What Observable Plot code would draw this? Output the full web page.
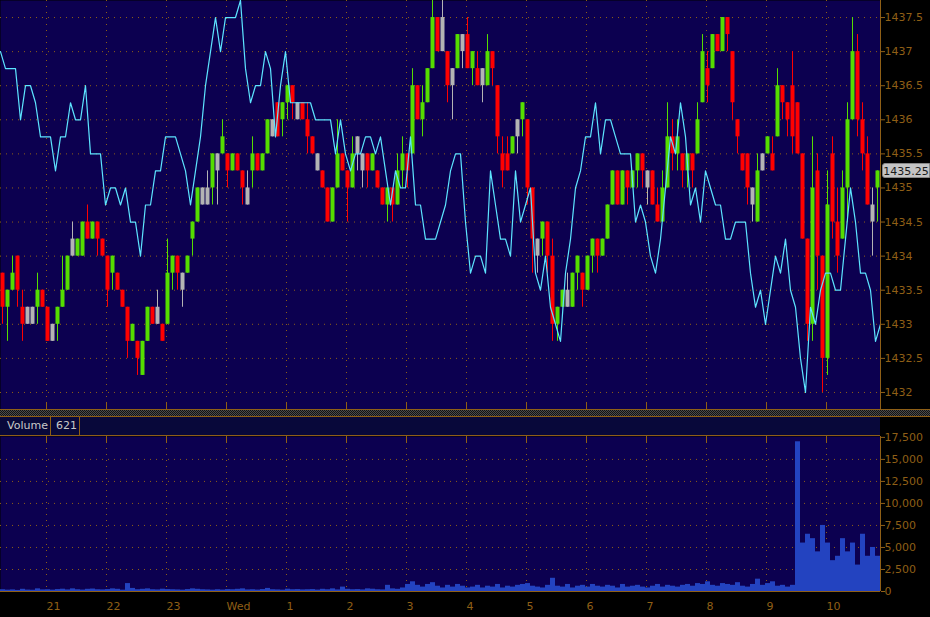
<!DOCTYPE html>
<html>
<head>
<meta charset="utf-8">
<script src="https://cdn.jsdelivr.net/npm/d3@7"></script>
<script src="https://cdn.jsdelivr.net/npm/@observablehq/plot@0.6"></script>
<style>
html, body { margin:0; padding:0; background:#000; }
#wrap { position:relative; width:930px; height:617px; overflow:hidden; background:#000; font-family:"DejaVu Sans", sans-serif; }
#price { position:absolute; left:0; top:0; }
#sep { position:absolute; left:0; top:409px; width:930px; height:6px; border-top:1px solid #8f5f16; border-bottom:1px solid #8f5f16;
  background: repeating-conic-gradient(#4c4c4c 0 25%, #121212 0 50%) 0 0 / 2px 2px; }
#hdr { position:absolute; left:0; top:417px; width:880px; height:18px; background:#08083a; border-bottom:1px solid #8f5f16; color:#c8c8c8; font-size:11px; }
#hdr .cell { position:absolute; top:0; height:18px; line-height:18px; border-right:1px solid #8f5f16; box-sizing:border-box; }
#vol { position:absolute; left:0; top:436px; }
#last { position:absolute; left:882px; width:48px; height:15px; line-height:15px; background:#c4c4c4; color:#1a1a1a; font-size:11px; text-align:center; border-radius:3px 0 0 3px; box-sizing:border-box; border:1px solid #888; }
svg { display:block; overflow:visible; }
</style>
</head>
<body>
<div id="wrap">
  <div id="price"></div>
  <div id="sep"></div>
  <div id="hdr"><div class="cell" style="left:0;width:51px;padding-left:7px;">Volume</div><div class="cell" id="volval" style="left:51px;width:29px;padding-left:5px;"></div></div>
  <div id="vol"></div>
  <div id="last"></div>
</div>
<script>
// ---- Data ----
const barStart = -226;      // minutes relative to midnight (Wed) of first bar
const barMinutes = 5;
const hourTicks = [-180, -120, -60, 0, 60, 120, 180, 240, 300, 360, 420, 480, 540, 600];
const hourLabels = ["21", "22", "23", "Wed", "1", "2", "3", "4", "5", "6", "7", "8", "9", "10"];
const priceTicks = [1432, 1432.5, 1433, 1433.5, 1434, 1434.5, 1435, 1435.5, 1436, 1436.5, 1437, 1437.5];
const volTicks = [0, 2500, 5000, 7500, 10000, 12500, 15000, 17500];
const volumeHeaderValue = "621";

const opens = [1433.75,1433.25,1433.5,1434,1433.25,1433.25,1433.25,1433.25,1433.5,1433.25,
 1433,1433,1433.25,1433.5,1434.25,1434,1434,1434.5,1434.25,1434.5,
 1434.25,1434,1434,1433.75,1433.5,1433.25,1432.75,1432.75,1432.25,1432.75,
 1433.25,1433.25,1433,1433,1433.75,1434,1433.5,1433.75,1434.25,1434.5,
 1434.75,1434.75,1435,1435.25,1435.5,1435.5,1435.25,1435.5,1435.25,1434.75,
 1435.25,1435.5,1435.25,1435.5,1435.75,1436.25,1436,1436.25,1436.5,1436,
 1436.25,1436,1435.75,1435.25,1435.25,1435,1434.5,1435,1435.5,1435.25,
 1435,1435.75,1435.25,1435.5,1435.25,1435.25,1435,1434.75,1435,1434.75,
 1435.25,1435.5,1435.5,1436.5,1436,1436.25,1436.75,1437.5,1437.5,1437,
 1436.75,1436.75,1437,1437.25,1436.75,1436.75,1436.75,1436.5,1437,1436.5,
 1435.25,1435.5,1435.5,1436,1436,1436,1435,1434,1434.25,1434.5,
 1434,1433,1433.25,1433.25,1433.25,1433.75,1433.75,1433.5,1434,1434.25,
 1434,1434.25,1434.75,1435.25,1434.75,1435.25,1435,1435.25,1435.5,1435,
 1435.25,1434.75,1434.5,1435,1435.75,1435.5,1435.5,1435.25,1435.5,1435.5,
 1436.25,1436.75,1436.75,1437.25,1437,1437.5,1437,1436,1435.5,1435.5,
 1434.75,1434.5,1435.5,1435.5,1435.5,1435.75,1436.5,1436.25,1436.5,1436.25,
 1435.5,1434.25,1433,1435.25,1434,1432.5,1435.5,1434.5,1434.25,1435,
 1436,1437,1436,1435.5,1434.5,1435];

const closes = [1433.25,1433.5,1433.75,1433.5,1433,1433,1433,1433.5,1433.25,1432.75,
 1432.75,1433.25,1433.5,1434,1434,1434.25,1434.5,1434.25,1434.5,1434.25,
 1434,1433.5,1433.75,1433.5,1433.25,1432.75,1433,1432.5,1432.75,1433.25,
 1433,1433,1432.75,1433.75,1434,1433.75,1433.75,1434,1434.5,1435,
 1435,1435,1435.5,1435.5,1435.75,1435.25,1435.5,1435.25,1435,1435,
 1435.5,1435.25,1435.5,1436,1436,1435.75,1436.25,1436.5,1436.25,1436.25,
 1436,1435.75,1435.5,1435.5,1435,1434.5,1435,1435.5,1435.25,1435,
 1435.5,1435.5,1435.5,1435.25,1435.5,1435,1434.75,1435,1434.75,1435.25,
 1435.5,1435.25,1436.5,1436,1436.25,1436.75,1437.5,1437,1437,1436.5,
 1436.5,1437.25,1437.25,1436.75,1437,1436.5,1436.5,1437,1436.75,1435.75,
 1435.5,1435.25,1435.75,1435.75,1436.25,1435,1434.25,1434.25,1434.5,1434,
 1433,1433.25,1433.5,1433.5,1433.75,1434,1433.5,1434,1434.25,1434,
 1434.25,1434.75,1435.25,1434.75,1435.25,1435,1435.25,1435.5,1435.25,1435.25,
 1434.75,1434.5,1435,1435.75,1435.5,1435.75,1435.25,1435.5,1435.25,1436,
 1437,1436.5,1437.25,1437,1437.5,1437.25,1436.25,1435.75,1435.25,1435,
 1435,1435.25,1435.25,1435.75,1435.25,1436.5,1436.25,1436,1435.75,1435.5,
 1434.25,1433,1435,1434,1432.5,1434.75,1434.5,1434,1435,1436,
 1437,1436,1435.5,1434.75,1434.75,1435.25];

const highs = [1433.75,1433.5,1434,1434,1433.5,1433.25,1433.25,1433.75,1433.5,1433.25,
 1433,1433.25,1434,1434,1434.5,1434.25,1434.5,1434.75,1434.5,1434.5,
 1434.25,1434,1434,1433.75,1433.5,1433.25,1433,1432.75,1432.75,1433.25,
 1433.25,1433.5,1433,1434.25,1434,1434,1433.75,1434,1434.5,1435,
 1435,1435.25,1435.5,1435.5,1436,1435.5,1435.5,1435.5,1435.25,1435.25,
 1435.75,1435.5,1435.5,1436,1436,1436.25,1436.25,1436.5,1436.5,1436.25,
 1436.25,1436.25,1435.75,1435.5,1435.25,1435,1435,1436,1435.5,1435.25,
 1435.75,1435.75,1435.5,1435.5,1435.5,1435.25,1435,1435,1435,1435.5,
 1435.75,1435.5,1436.75,1436.5,1436.5,1436.75,1437.75,1437.5,1437.75,1437,
 1436.75,1437.25,1437.25,1437.5,1437,1437,1436.75,1437.25,1437,1436.5,
 1435.75,1435.75,1435.75,1436,1436.25,1436,1435,1434.25,1434.5,1434.5,
 1434.25,1433.25,1433.5,1433.75,1433.75,1434,1433.75,1434,1434.25,1434.25,
 1434.25,1434.75,1435.25,1435.25,1435.25,1435.25,1435.25,1435.5,1435.5,1435.25,
 1435.25,1435,1435.25,1436.25,1436,1436,1435.5,1435.5,1435.5,1436.25,
 1437.25,1437,1437.25,1437.25,1437.5,1437.5,1437,1436,1435.5,1435.5,
 1435,1435.5,1435.5,1435.75,1435.75,1436.75,1436.5,1436.25,1437,1436.25,
 1435.5,1434.25,1435.75,1435.5,1434,1435.25,1435.75,1435,1435.25,1436.25,
 1437.5,1437.25,1436.25,1435.75,1435,1435.25];

const lows = [1433,1432.75,1433.5,1433.25,1432.75,1433,1433,1433,1433.25,1432.75,
 1432.75,1432.75,1433.25,1433.5,1434,1434,1434,1434.25,1434.25,1434,
 1434,1433.25,1433.5,1433.5,1433.25,1432.5,1432.75,1432.25,1432.25,1432.75,
 1433,1433,1432.75,1433,1433.5,1433.5,1433.25,1433.75,1434,1434.5,
 1434.75,1434.75,1434.75,1434.75,1435.5,1435,1435.25,1435.25,1434.75,1434.75,
 1435,1435.25,1435.25,1435.5,1435.75,1435.75,1435.75,1436,1436,1436,
 1436,1435.5,1435.5,1435.25,1435,1434.5,1434.5,1435,1435.25,1434.5,
 1435,1435.25,1435,1435,1435.25,1435,1434.75,1434.5,1434.5,1434.75,
 1435,1435,1435.5,1436,1435.75,1436.25,1436.75,1437,1437,1436.25,
 1436,1436.75,1436.75,1436.75,1436.5,1436.5,1436.25,1436.5,1436.5,1435.5,
 1435,1435.25,1435.5,1435.5,1435.75,1434.75,1433.75,1433.75,1434,1433.75,
 1432.75,1432.75,1433.25,1433.25,1433.25,1433.5,1433.25,1433.5,1433.75,1433.75,
 1434,1434.25,1434.75,1434.75,1434.75,1434.75,1435,1435,1435,1434.75,
 1434.75,1434.5,1434.5,1435,1435.25,1435.25,1435,1435,1435,1435.5,
 1436.25,1436.25,1436.75,1437,1437,1437,1436,1435.5,1435.25,1434.75,
 1434.5,1434.5,1435.25,1435.5,1435.25,1435.75,1436,1435.75,1435.5,1435.5,
 1434.25,1432.75,1432.75,1433.5,1432,1432.25,1434.25,1433.75,1434.25,1434.5,
 1436,1435.75,1435.25,1434.75,1434,1434.5];

// overlay (cyan) series, one value every 5 minutes from the left edge
const overlay = [1437,1436.75,1436.75,1436.75,1436,1436.5,1436.5,1436.25,1435.75,1435.75,
 1435.75,1435.25,1435.75,1435.75,1436.25,1436,1436,1436.5,1435.5,1435.5,
 1435.5,1434.75,1435,1435,1434.75,1435,1434.5,1434.5,1434,1434.75,
 1434.75,1435.25,1435.25,1435.75,1435.75,1435.75,1435.5,1435.25,1434.75,1435.25,
 1435.75,1436.5,1437,1437.5,1437,1437.5,1437.5,1437.5,1437.75,1436.75,
 1436.25,1436.5,1436.5,1437,1436.75,1435.75,1436.5,1437,1436.25,1436.25,
 1436.25,1436.25,1436.25,1436,1436,1436,1436,1435.5,1436,1435.5,
 1435.25,1435.5,1435.5,1435.75,1435.75,1435.5,1435.75,1435.25,1434.75,1435.25,
 1435,1435,1435.75,1434.75,1434.75,1434.25,1434.25,1434.25,1434.5,1434.75,
 1435.25,1435.5,1435.5,1434.5,1433.75,1434,1434,1433.75,1435.25,1434.75,
 1434.25,1434.25,1434,1435.25,1434.5,1434.75,1435,1433.75,1433.5,1434,
 1433.25,1433,1432.75,1433.75,1434.25,1435,1435.25,1435.75,1435.75,1436.25,
 1435.5,1436,1436,1435.75,1435.5,1435.5,1435.5,1434.5,1434.75,1434.5,
 1434,1433.75,1434.25,1435,1435.75,1435.5,1436.25,1435.75,1434.75,1435,
 1434.5,1435.25,1435,1434.75,1434.75,1434.25,1434.25,1434.5,1434.5,1434.5,
 1433.75,1433.25,1433.5,1433,1433.5,1434,1433.75,1434.25,1433.5,1433.25,
 1432.5,1432,1433.25,1433,1433.5,1433.75,1433.75,1433.5,1433.5,1434.25,
 1435,1434.5,1433.75,1433.75,1433.5,1432.75,1433];
const overlayStart = -226;

const volumes = [200,150,180,120,250,160,140,300,180,200,150,220,260,180,300,200,160,250,280,200,
 180,220,300,250,150,900,350,200,250,300,200,180,260,220,200,180,150,220,300,250,
 200,180,150,200,160,220,200,250,300,180,200,160,220,350,200,180,150,260,200,220,
 180,200,220,160,250,200,300,180,500,250,200,220,180,300,260,200,180,700,300,250,
 400,800,1100,700,500,800,1000,600,400,700,500,800,600,400,500,700,400,600,500,800,
 400,600,500,700,800,900,600,500,400,700,1500,600,500,800,400,600,700,500,800,600,
 500,700,600,400,800,500,600,700,500,400,600,800,500,700,600,500,700,800,600,900,
 800,1100,700,600,900,800,700,1000,600,500,800,1400,700,900,1100,600,700,500,700,17000,
 5500,6500,6000,4500,7500,5500,3500,4000,6000,4500,5500,3000,6500,4000,5000,4000];

// ---- Build tables ----
const candles = closes.map((c, i) => {
  const prev = i === 0 ? opens[0] : closes[i - 1];
  return {
    t: barStart + i * barMinutes,
    open: opens[i], close: c, high: highs[i], low: lows[i],
    dir: c > prev ? "up" : c < prev ? "down" : "flat"
  };
});
const overlayData = overlay.map((v, i) => ({t: overlayStart + i * barMinutes, v}));
const volData = volumes.map((v, i) => ({t: barStart + i * barMinutes, v}));

const xDomain = [-226, 654];
const brown = "#8f5f16";
const navy = "#0c0050";
const style = {background: "transparent", color: brown, fontFamily: "DejaVu Sans, sans-serif", fontSize: "11px", overflow: "visible"};
const dotted = {stroke: brown, strokeOpacity: 1, strokeDasharray: "1,5"};

const price = Plot.plot({
  width: 930, height: 409,
  marginTop: 0, marginBottom: 0, marginLeft: 0, marginRight: 50,
  style,
  x: {domain: xDomain, axis: null},
  y: {domain: [1431.75, 1437.75]},
  color: {domain: ["up", "down", "flat"], range: ["#55dd00", "#ff0000", "#b4b4b4"]},
  marks: [
    Plot.frame({fill: navy, stroke: "none"}),
    Plot.gridY(priceTicks, dotted),
    Plot.gridX(hourTicks, dotted),
    Plot.gridX(hourTicks, {stroke: brown, strokeOpacity: 1, insetTop: 403}),
    Plot.ruleX(candles, {x: d => d.t + 2, y1: "low", y2: "high", stroke: "dir"}),
    Plot.rect(candles, {x1: "t", x2: d => d.t + barMinutes, y1: "open", y2: "close", fill: "dir", insetLeft: 0.5, insetRight: 0.5}),
    Plot.line(overlayData, {x: "t", y: "v", stroke: "#5de4ff", strokeWidth: 1.2}),
    Plot.ruleX([xDomain[1]], {stroke: brown}),
    Plot.axisY(priceTicks, {anchor: "right", label: null, tickSize: 4, tickPadding: 0, tickFormat: d => String(d)})
  ]
});
document.getElementById("price").append(price);

const vol = Plot.plot({
  width: 930, height: 181,
  marginTop: 0, marginBottom: 26, marginLeft: 0, marginRight: 50,
  style,
  x: {domain: xDomain, label: null},
  y: {domain: [0, 17600], label: null},
  marks: [
    Plot.frame({fill: navy, stroke: "none"}),
    Plot.gridY(volTicks.filter(v => v > 0 && v < 17500), dotted),
    Plot.gridX(hourTicks, dotted),
    Plot.gridX(hourTicks, {stroke: brown, strokeOpacity: 1, insetBottom: 149}),
    Plot.rect(volData, {x1: "t", x2: d => d.t + barMinutes, y1: d => 0, y2: "v", fill: "#2343c0"}),
    Plot.ruleY([0], {stroke: brown}),
    Plot.ruleX([xDomain[1]], {stroke: brown}),
    Plot.axisY(volTicks, {anchor: "right", label: null, tickSize: 4, tickPadding: 0, tickFormat: d3.format(",")}),
    Plot.axisX(hourTicks, {anchor: "bottom", label: null, tickSize: 0, tickPadding: 11, textAnchor: "start",
      tickFormat: d => hourLabels[hourTicks.indexOf(d)]})
  ]
});
document.getElementById("vol").append(vol);

document.getElementById("volval").textContent = volumeHeaderValue;

// last price marker on the right scale
const lastClose = closes[closes.length - 1];
const yLast = price.scale("y").apply(lastClose);
const lastEl = document.getElementById("last");
lastEl.textContent = String(lastClose);
lastEl.style.top = (yLast - 7.5) + "px";
</script>
</body>
</html>
